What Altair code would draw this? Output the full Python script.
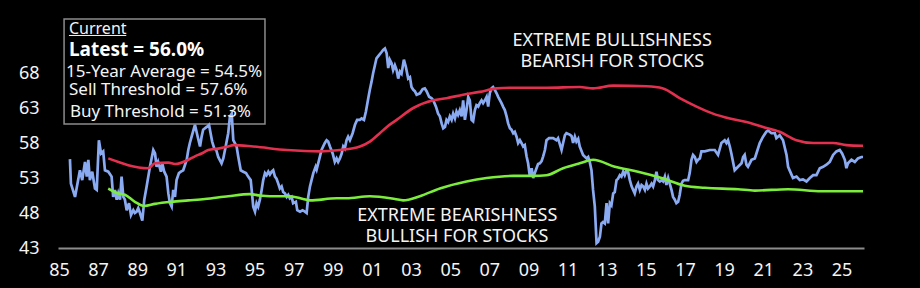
import altair as alt
import pandas as pd

# ---- data ----
sent_year = [1985.56, 1985.61, 1985.82, 1986.07, 1986.19, 1986.33, 1986.42, 1986.50, 1986.58, 1986.70,
             1986.84, 1986.93, 1987.04, 1987.15, 1987.26, 1987.35, 1987.52, 1987.69, 1987.77, 1987.86,
             1987.95, 1988.03, 1988.12, 1988.20, 1988.29, 1988.37, 1988.46, 1988.58, 1988.68, 1988.80,
             1988.88, 1988.97, 1989.05, 1989.14, 1989.26, 1989.36, 1989.48, 1989.65, 1989.82, 1989.91,
             1989.99, 1990.07, 1990.21, 1990.28, 1990.38, 1990.50, 1990.59, 1990.67, 1990.76, 1990.84,
             1990.93, 1991.01, 1991.13, 1991.23, 1991.35, 1991.53, 1991.61, 1991.69, 1991.78, 1991.95,
             1992.09, 1992.21, 1992.29, 1992.37, 1992.55, 1992.67, 1992.75, 1992.83, 1992.94, 1993.04,
             1993.14, 1993.31, 1993.40, 1993.52, 1993.65, 1993.74, 1993.83, 1993.91, 1994.08, 1994.16,
             1994.29, 1994.42, 1994.56, 1994.67, 1994.80, 1994.85, 1994.93, 1995.02, 1995.10, 1995.18,
             1995.27, 1995.36, 1995.44, 1995.53, 1995.61, 1995.70, 1995.78, 1995.87, 1995.95, 1996.04,
             1996.12, 1996.21, 1996.29, 1996.38, 1996.46, 1996.55, 1996.64, 1996.72, 1996.80, 1996.89,
             1996.97, 1997.11, 1997.18, 1997.32, 1997.45, 1997.57, 1997.66, 1997.74, 1997.83, 1997.91,
             1998.00, 1998.12, 1998.17, 1998.25, 1998.34, 1998.42, 1998.59, 1998.68, 1998.76, 1998.85,
             1998.99, 1999.10, 1999.19, 1999.27, 1999.36, 1999.45, 1999.53, 1999.61, 1999.70, 1999.78,
             1999.87, 2000.01, 2000.13, 2000.24, 2000.38, 2000.47, 2000.59, 2000.69, 2000.81, 2000.89,
             2000.98, 2001.06, 2001.15, 2001.23, 2001.37, 2001.49, 2001.57, 2001.66, 2001.75, 2001.83,
             2001.91, 2002.00, 2002.08, 2002.17, 2002.26, 2002.34, 2002.43, 2002.51, 2002.63, 2002.73,
             2002.85, 2002.94, 2003.02, 2003.11, 2003.19, 2003.28, 2003.45, 2003.59, 2003.70, 2003.79,
             2003.92, 2004.05, 2004.13, 2004.27, 2004.38, 2004.47, 2004.56, 2004.64, 2004.73, 2004.81,
             2004.89, 2004.98, 2005.07, 2005.15, 2005.24, 2005.32, 2005.40, 2005.49, 2005.58, 2005.66,
             2005.75, 2005.83, 2005.92, 2006.00, 2006.09, 2006.17, 2006.26, 2006.34, 2006.43, 2006.51,
             2006.60, 2006.68, 2006.77, 2006.86, 2006.94, 2007.02, 2007.11, 2007.19, 2007.28, 2007.37,
             2007.45, 2007.62, 2007.70, 2007.79, 2007.88, 2007.96, 2008.05, 2008.13, 2008.22, 2008.30,
             2008.39, 2008.47, 2008.56, 2008.64, 2008.73, 2008.81, 2008.90, 2008.98, 2009.07, 2009.16,
             2009.24, 2009.32, 2009.41, 2009.49, 2009.58, 2009.67, 2009.75, 2009.84, 2009.92, 2010.05,
             2010.26, 2010.43, 2010.51, 2010.69, 2010.77, 2010.86, 2010.94, 2011.03, 2011.11, 2011.20,
             2011.28, 2011.37, 2011.45, 2011.54, 2011.62, 2011.79, 2011.97, 2012.05, 2012.13, 2012.22,
             2012.30, 2012.39, 2012.48, 2012.56, 2012.65, 2012.73, 2012.81, 2012.90, 2012.99, 2013.07,
             2013.16, 2013.24, 2013.33, 2013.41, 2013.50, 2013.58, 2013.67, 2013.75, 2013.84, 2013.92,
             2014.01, 2014.09, 2014.18, 2014.27, 2014.35, 2014.43, 2014.52, 2014.60, 2014.69, 2014.78,
             2014.86, 2014.95, 2015.03, 2015.11, 2015.20, 2015.29, 2015.37, 2015.46, 2015.54, 2015.62,
             2015.71, 2015.80, 2015.88, 2015.97, 2016.05, 2016.14, 2016.22, 2016.31, 2016.39, 2016.48,
             2016.56, 2016.65, 2016.73, 2016.82, 2016.90, 2016.99, 2017.16, 2017.24, 2017.33, 2017.41,
             2017.50, 2017.59, 2017.67, 2017.76, 2017.84, 2018.01, 2018.27, 2018.52, 2018.69, 2018.86,
             2019.03, 2019.12, 2019.20, 2019.29, 2019.37, 2019.54, 2019.71, 2019.89, 2019.97, 2020.05,
             2020.14, 2020.22, 2020.40, 2020.57, 2020.65, 2020.82, 2020.99, 2021.16, 2021.25, 2021.42,
             2021.59, 2021.67, 2021.84, 2022.01, 2022.19, 2022.27, 2022.41, 2022.52, 2022.70, 2022.87,
             2023.03, 2023.21, 2023.38, 2023.55, 2023.72, 2023.89, 2024.06, 2024.23, 2024.40, 2024.57,
             2024.74, 2024.91, 2025.03, 2025.17, 2025.25, 2025.33, 2025.51, 2025.68, 2025.84, 2026.02,
             2026.10]
sent_value = [55.7, 52.2, 50.3, 54.1, 52.7, 55.3, 53.2, 55.6, 52.7, 53.9,
              51.5, 51.3, 58.4, 56.5, 56.8, 54.1, 53.9, 53.2, 50.3, 51.3,
              49.9, 50.8, 49.9, 53.2, 50.3, 49.9, 48.4, 49.4, 47.7, 48.4,
              48.0, 48.2, 48.7, 48.0, 46.9, 49.9, 51.8, 54.6, 57.0, 56.5,
              54.6, 55.3, 53.9, 55.1, 53.9, 53.2, 50.8, 49.4, 48.9, 51.3,
              50.3, 52.7, 53.7, 53.9, 54.1, 55.6, 57.0, 58.0, 58.9, 60.6,
              58.9, 57.5, 58.9, 59.9, 60.3, 60.6, 59.4, 58.2, 57.2, 57.0,
              56.0, 55.1, 55.8, 57.5, 59.4, 61.8, 62.2, 58.4, 57.5, 56.1,
              54.1, 53.9, 53.7, 53.2, 52.7, 51.3, 48.9, 48.2, 49.4, 48.9,
              49.9, 51.3, 52.7, 53.7, 53.4, 53.9, 53.5, 53.9, 54.1, 53.2,
              52.9, 52.2, 51.5, 51.8, 51.0, 50.8, 50.3, 50.6, 50.1, 50.3,
              49.4, 49.6, 48.4, 48.2, 48.4, 48.2, 48.0, 50.3, 51.8, 52.7,
              53.7, 54.6, 54.2, 55.1, 56.1, 57.0, 58.0, 58.4, 58.2, 57.5,
              56.5, 55.3, 55.8, 55.3, 55.8, 56.5, 57.5, 57.2, 58.4, 58.9,
              58.4, 59.4, 60.6, 61.3, 61.3, 61.5, 61.3, 62.5, 64.4, 65.6,
              66.8, 68.0, 69.1, 70.1, 70.6, 71.0, 71.3, 71.5, 70.8, 68.7,
              69.9, 69.4, 68.4, 69.1, 68.4, 67.2, 68.2, 67.9, 69.9, 68.9,
              67.2, 67.4, 66.0, 65.6, 65.4, 64.9, 65.1, 65.7, 65.8, 65.4,
              64.6, 64.4, 64.1, 63.2, 62.2, 61.8, 60.8, 60.1, 60.3, 61.3,
              61.0, 61.8, 61.3, 62.2, 61.5, 62.5, 62.0, 62.7, 61.8, 64.1,
              61.3, 62.7, 64.6, 64.1, 61.3, 61.1, 62.7, 63.4, 63.2, 63.7,
              64.1, 63.7, 64.1, 64.6, 63.2, 65.1, 65.8, 66.0, 65.6, 65.1,
              64.6, 63.7, 63.2, 62.7, 61.8, 60.8, 60.1, 59.9, 59.4, 59.6,
              58.9, 58.0, 58.4, 58.0, 57.5, 57.7, 56.1, 55.1, 53.2, 54.4,
              53.0, 53.7, 54.4, 55.0, 55.1, 55.4, 56.1, 57.0, 58.4, 58.7,
              58.7, 58.4, 58.7, 57.0, 58.0, 59.1, 59.4, 59.3, 59.2, 59.0,
              58.0, 58.9, 58.2, 58.6, 57.5, 56.3, 55.8, 56.0, 55.3, 54.1,
              51.3, 48.9, 43.7, 43.9, 44.6, 46.5, 46.7, 46.5, 49.4, 46.5,
              49.4, 49.1, 50.8, 51.0, 52.7, 52.9, 53.4, 53.2, 53.9, 53.4,
              54.1, 53.9, 52.7, 51.8, 51.3, 50.8, 51.8, 52.2, 51.3, 52.0,
              51.8, 51.3, 52.2, 51.5, 51.8, 52.2, 51.8, 52.7, 53.9, 52.7,
              52.5, 52.7, 52.5, 53.2, 52.0, 53.0, 52.2, 51.3, 50.3, 49.9,
              49.4, 49.6, 50.6, 52.2, 52.6, 52.7, 52.7, 53.7, 55.6, 56.3,
              56.0, 55.3, 55.6, 55.8, 56.8, 56.8, 57.0, 57.0, 56.3, 58.0,
              58.4, 58.0, 58.4, 57.5, 56.5, 54.1, 54.6, 55.1, 56.0, 56.3,
              54.9, 54.6, 55.6, 55.8, 56.5, 58.0, 58.9, 59.6, 59.8, 59.4,
              59.4, 58.7, 59.1, 58.4, 56.3, 54.6, 53.7, 53.0, 53.2, 52.7,
              52.8, 52.5, 53.0, 53.4, 53.4, 54.4, 54.6, 54.9, 55.3, 56.3,
              56.8, 57.0, 56.5, 55.6, 54.4, 55.1, 55.6, 55.3, 55.8, 56.0,
              56.0]

sell_year = [1987.52, 1989.56, 1989.91, 1990.59, 1990.93, 1991.61, 1991.95, 1992.29, 1992.63, 1993.14,
             1993.65, 1993.91, 1994.93, 1996.64, 1998.34, 1999.36, 2000.38, 2000.89, 2001.40, 2001.76,
             2002.26, 2003.11, 2004.13, 2004.81, 2005.66, 2006.51, 2007.37, 2008.22, 2009.92, 2011.62,
             2012.30, 2013.33, 2015.03, 2015.88, 2016.73, 2017.59, 2018.43, 2019.29, 2020.14, 2020.99,
             2021.84, 2022.70, 2023.55, 2024.57, 2025.25, 2026.10]
sell_value = [55.8, 54.4, 55.1, 55.2, 55.0, 55.6, 56.1, 56.5, 57.0, 57.2,
              57.5, 57.7, 57.5, 57.0, 56.8, 57.0, 57.5, 58.2, 59.4, 60.3,
              61.3, 63.0, 64.1, 64.4, 64.9, 65.3, 65.8, 65.9, 65.9, 66.0,
              65.8, 66.2, 66.1, 65.8, 64.4, 63.2, 62.2, 61.5, 61.0, 60.3,
              59.6, 58.4, 58.0, 58.0, 57.7, 57.6]

buy_year = [1987.52, 1988.03, 1988.37, 1988.88, 1989.36, 1989.91, 1990.76, 1991.61, 1992.46, 1993.65,
            1994.76, 1995.27, 1995.78, 1996.80, 1997.48, 1997.83, 1999.19, 1999.70, 2000.89, 2002.17,
            2002.59, 2003.45, 2004.47, 2005.83, 2006.86, 2008.22, 2009.24, 2009.92, 2010.77, 2011.62,
            2012.30, 2013.41, 2014.60, 2015.80, 2016.99, 2018.01, 2019.71, 2020.57, 2022.27, 2023.97,
            2026.10]
buy_value = [51.5, 50.8, 50.6, 49.6, 49.0, 49.3, 49.6, 49.8, 50.0, 50.4,
             50.7, 50.5, 50.4, 50.4, 50.0, 49.8, 50.1, 50.1, 50.4, 50.0,
             49.8, 50.4, 51.5, 52.5, 53.0, 53.3, 53.3, 53.4, 54.4, 55.1,
             55.6, 54.6, 53.9, 53.0, 51.9, 51.6, 51.4, 51.2, 51.4, 51.1,
             51.1]

x_ticks = list(range(1985, 2026, 2))
y_ticks = [43, 48, 53, 58, 63, 68]

# legend box contents
box_x1 = [1985.26]
box_x2 = [1995.53]
box_y1 = [75.71]
box_y2 = [60.71]
title_text = ["Current"]
title_x = [1985.51]
title_y = [74.29]
under_x1 = [1985.51]
under_x2 = [1988.44]
under_y = [73.36]
latest_text = ["Latest = 56.0%"]
latest_x = [1985.51]
latest_y = [71.29]
stat_text = ["15-Year Average = 54.5%", "Sell Threshold = 57.6%", "Buy Threshold = 51.3%"]
stat_x = [1985.36, 1985.51, 1985.56]
stat_y = [68.14, 65.57, 62.43]

ann_text = ["EXTREME BULLISHNESS", "BEARISH FOR STOCKS", "EXTREME BEARISHNESS", "BULLISH FOR STOCKS"]
ann_x = [2013.28, 2013.28, 2005.36, 2005.34]
ann_y = [72.57, 69.57, 47.57, 44.57]

# ---- chart ----
FONT = "Noto Sans"
TXT = "#f4f4f4"
XDOM = [1984.95, 2026.15]
YDOM = [43, 78]

xs = alt.Scale(domain=XDOM, nice=False, zero=False)
ys = alt.Scale(domain=YDOM, nice=False, zero=False)

sent = pd.DataFrame({"year": sent_year, "value": sent_value})
sell = pd.DataFrame({"year": sell_year, "value": sell_value})
buy = pd.DataFrame({"year": buy_year, "value": buy_value})

x_axis = alt.Axis(values=x_ticks, labelExpr="substring(toString(datum.value), 2, 4)",
                  title=None, grid=False, ticks=False, tickSize=0, domain=True,
                  domainColor="#8c8c8c", domainWidth=2, labelColor=TXT, labelFont=FONT,
                  labelFontSize=18, labelPadding=13, labelFlush=False)
y_axis = alt.Axis(values=y_ticks, title=None, grid=False, ticks=False, tickSize=0, domain=False,
                  labelColor=TXT, labelFont=FONT, labelFontSize=18, labelPadding=19,
                  labelFlush=False)

box_df = pd.DataFrame({"x1": box_x1, "x2": box_x2, "y1": box_y1, "y2": box_y2})
box = alt.Chart(box_df).mark_rect(fill="#000000", stroke="#8c8c8c", strokeWidth=1.5).encode(
    x=alt.X("x1:Q", scale=xs, axis=x_axis), x2="x2:Q",
    y=alt.Y("y1:Q", scale=ys, axis=y_axis), y2="y2:Q")

line_sent = alt.Chart(sent).mark_line(color="#8aabf2", strokeWidth=2.7).encode(
    x=alt.X("year:Q", scale=xs), y=alt.Y("value:Q", scale=ys))
line_sell = alt.Chart(sell).mark_line(color="#e2304f", strokeWidth=2.6, interpolate="monotone").encode(
    x=alt.X("year:Q", scale=xs), y=alt.Y("value:Q", scale=ys))
line_buy = alt.Chart(buy).mark_line(color="#7ced3c", strokeWidth=2.6, interpolate="monotone").encode(
    x=alt.X("year:Q", scale=xs), y=alt.Y("value:Q", scale=ys))

title_df = pd.DataFrame({"t": title_text, "x": title_x, "y": title_y})
title = alt.Chart(title_df).mark_text(align="left", baseline="middle", font=FONT, fontSize=16,
                                      color=TXT).encode(
    x=alt.X("x:Q", scale=xs), y=alt.Y("y:Q", scale=ys), text="t:N")
under_df = pd.DataFrame({"x1": under_x1, "x2": under_x2, "y": under_y})
under = alt.Chart(under_df).mark_rule(color=TXT, strokeWidth=1).encode(
    x=alt.X("x1:Q", scale=xs), x2="x2:Q", y=alt.Y("y:Q", scale=ys))
latest_df = pd.DataFrame({"t": latest_text, "x": latest_x, "y": latest_y})
latest = alt.Chart(latest_df).mark_text(align="left", baseline="middle", font=FONT, fontSize=19,
                                        fontWeight="bold", color="#ffffff").encode(
    x=alt.X("x:Q", scale=xs), y=alt.Y("y:Q", scale=ys), text="t:N")
stat_df = pd.DataFrame({"t": stat_text, "x": stat_x, "y": stat_y})
stats = alt.Chart(stat_df).mark_text(align="left", baseline="middle", font=FONT, fontSize=17,
                                     color=TXT).encode(
    x=alt.X("x:Q", scale=xs), y=alt.Y("y:Q", scale=ys), text="t:N")

ann_df = pd.DataFrame({"t": ann_text, "x": ann_x, "y": ann_y})
ann = alt.Chart(ann_df).mark_text(align="center", baseline="middle", font=FONT, fontSize=18,
                                  color=TXT).encode(
    x=alt.X("x:Q", scale=xs), y=alt.Y("y:Q", scale=ys), text="t:N")

chart = alt.layer(box, line_sent, line_sell, line_buy, title, under, latest, stats, ann).properties(
    width=806, height=245,
    autosize=alt.AutoSizeParams(type="none"),
    padding={"left": 58, "top": 3, "right": 56, "bottom": 40},
    background="#000000",
).configure_view(stroke=None)

chart.save("out.html", embed_options={"renderer": "svg", "actions": False})
